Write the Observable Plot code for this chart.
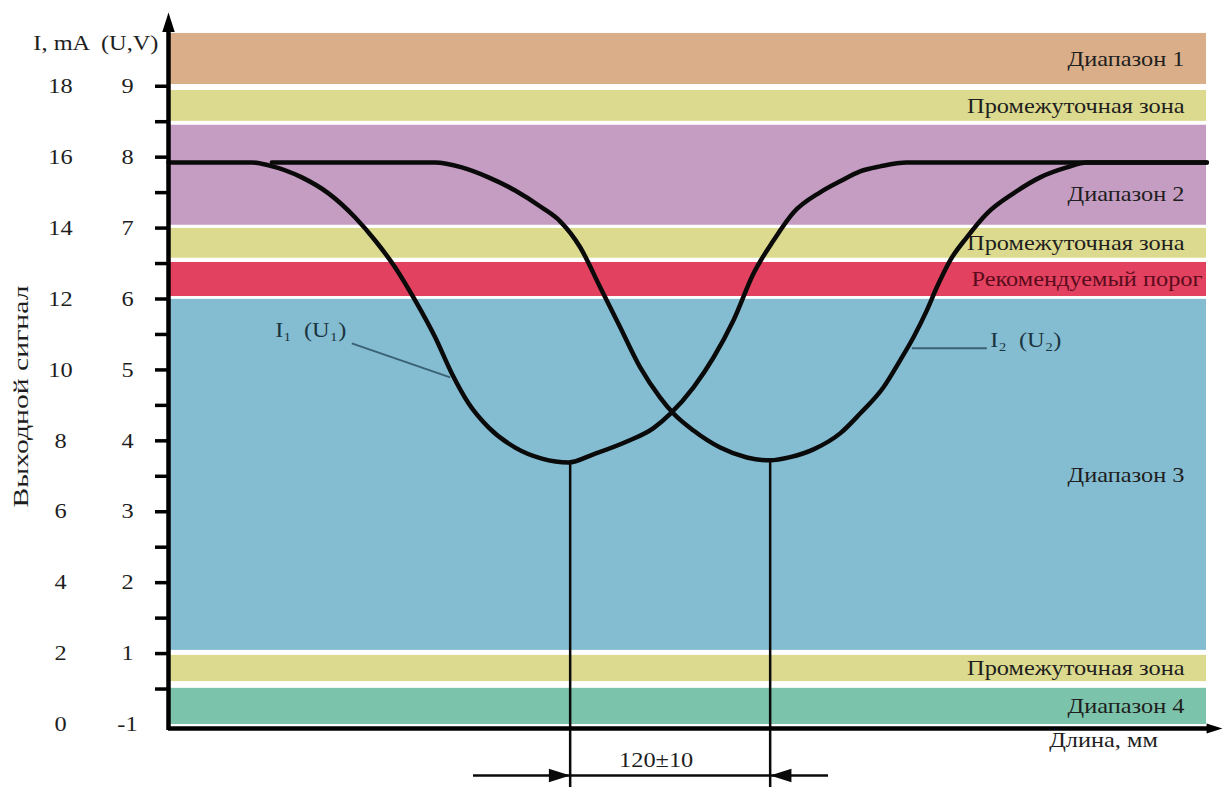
<!DOCTYPE html>
<html><head><meta charset="utf-8">
<script src="https://cdn.jsdelivr.net/npm/d3@7"></script>
<script src="https://cdn.jsdelivr.net/npm/@observablehq/plot@0.6"></script>
<style>
html,body{margin:0;padding:0;background:#fff}
#chart svg{display:block}
</style>
</head><body><div id="chart"></div>
<script>
// ---- data (x in mm along the length, y in mA) ----
const bandNames = ["Диапазон 1","Промежуточная зона","Диапазон 2","Промежуточная зона","Рекомендуемый порог","Диапазон 3","Промежуточная зона","Диапазон 4"];
const bandLow  = [18.05, 17.01, 14.08, 13.15, 12.07, 2.09, 1.21, 0];
const bandHigh = [19.49, 17.88, 16.90, 13.99, 13.03, 11.99, 1.95, 1.02];
const bandEnd = 622.8;

const baseline = 15.85;

const curve1X = [0, 50, 60, 80, 96, 112, 124, 136, 148, 160, 170, 180, 192, 208, 224, 240, 255, 275, 291, 301, 315, 327, 339, 351, 363, 375, 391, 403, 415, 427, 443, 623];
const curve1Y = [15.85, 15.85, 15.77, 15.43, 14.98, 14.30, 13.65, 12.89, 11.96, 10.92, 9.90, 9.06, 8.38, 7.81, 7.50, 7.39, 7.62, 7.98, 8.36, 8.76, 9.51, 10.35, 11.40, 12.72, 13.65, 14.44, 15.01, 15.32, 15.60, 15.74, 15.85, 15.85];

const curve2X = [62, 160, 176, 192, 208, 224, 235, 247, 259, 271, 283, 295, 303, 315, 331, 347, 361, 373, 387, 403, 415, 429, 439, 447, 455, 461, 469, 479, 491, 507, 523, 539, 551, 623];
const curve2Y = [15.85, 15.85, 15.71, 15.43, 15.06, 14.58, 14.19, 13.46, 12.33, 11.20, 10.07, 9.22, 8.77, 8.29, 7.81, 7.53, 7.45, 7.54, 7.76, 8.21, 8.77, 9.51, 10.27, 10.92, 11.68, 12.33, 13.09, 13.74, 14.41, 14.98, 15.43, 15.71, 15.85, 15.85];

const minimaX = [241, 361];
const minimaY = [7.39, 7.45];
const dimensionText = "120±10";
const dimensionSpan = [183, 396];
const dimensionLevel = -1.44;

const iTickLabels = [0, 2, 4, 6, 8, 10, 12, 14, 16, 18];
const uTickLabels = [-1, 1, 2, 3, 4, 5, 6, 7, 8, 9];
const tickValues = [1, 2, 3, 4, 5, 6, 7, 8, 9, 10, 11, 12, 13, 14, 15, 16, 17, 18];

const curveLabels = ["I₁  (U₁)", "I₂  (U₂)"];
const curveLabelX = [64, 493];
const curveLabelY = [11.11, 10.83];
const leaderX1 = [110, 446], leaderY1 = [10.75, 10.61];
const leaderX2 = [169, 491], leaderY2 = [9.79, 10.61];

const yTitle = "Выходной сигнал";
const xTitle = "Длина, мм";
const unitsTitle = "I, mA  (U,V)";

// ---- tables ----
const bands = bandNames.map((name, i) => ({name, low: bandLow[i], high: bandHigh[i]}));
const curve1 = curve1X.map((x, i) => ({x, y: curve1Y[i]}));
const curve2 = curve2X.map((x, i) => ({x, y: curve2Y[i]}));
const minima = minimaX.map((x, i) => ({x, y: minimaY[i]}));
const iTicks = iTickLabels.map((v, i) => ({y: v, i: v, u: uTickLabels[i]}));
const labels = curveLabels.map((t, i) => ({t, x: curveLabelX[i], y: curveLabelY[i]}));
const leaders = leaderX1.map((x1, i) => ({x1, y1: leaderY1[i], x2: leaderX2[i], y2: leaderY2[i]}));

const xMax = 632.4, yMax = 20.08;

function arrowSymbol(dir) {
  return {draw(ctx, size) {
    const L = Math.sqrt(size), W = L * 0.32;
    ctx.moveTo(0, 0);
    if (dir === "up") { ctx.lineTo(-W, L); ctx.lineTo(W, L); }
    else if (dir === "right") { ctx.lineTo(-L, -W); ctx.lineTo(-L, W); }
    else { ctx.lineTo(L, -W); ctx.lineTo(L, W); }
    ctx.closePath();
  }};
}

const labelY = d => d.name === "Диапазон 2" ? (baseline + d.low) / 2 : (d.low + d.high) / 2;
const font = "Liberation Serif";
const ink = "#1e1e1e";

const chart = Plot.plot({
  width: 1224, height: 787,
  marginLeft: 168, marginRight: 2, marginTop: 12, marginBottom: 63,
  x: {domain: [0, xMax], axis: null},
  y: {domain: [0, yMax], axis: null},
  color: {domain: [...new Set(bandNames)], range: ["#D9AE89", "#DCDA8F", "#C59DC2", "#E2415F", "#84BDD1", "#7CC3AB"]},
  style: {fontFamily: font, background: "white", overflow: "visible"},
  marks: [
    Plot.rect(bands, {x1: 0, x2: bandEnd, y1: "low", y2: "high", fill: "name"}),
    Plot.text(bands.filter(d => d.name !== "Рекомендуемый порог"), {x: bandEnd, y: labelY, text: "name", textAnchor: "end", dx: -22, fontSize: 21, fill: ink, className: "stretch"}),
    Plot.text(bands.filter(d => d.name === "Рекомендуемый порог"), {x: bandEnd, y: labelY, text: "name", textAnchor: "end", dx: -4, fontSize: 21, fill: "#5a0b1c", className: "stretch"}),
    // curves
    Plot.line(curve1, {x: "x", y: "y", curve: "monotone-x", stroke: "#0a0a0a", strokeWidth: 4.5}),
    Plot.line(curve2, {x: "x", y: "y", curve: "monotone-x", stroke: "#0a0a0a", strokeWidth: 4.5}),
    // leaders and curve labels
    Plot.link(leaders, {x1: "x1", y1: "y1", x2: "x2", y2: "y2", stroke: "#3b6274", strokeWidth: 2}),
    Plot.text(labels, {x: "x", y: "y", text: "t", textAnchor: "start", fontSize: 21, fill: "#1b3340", className: "stretch"}),
    // minima verticals & dimension
    Plot.ruleX(minima, {x: "x", y1: "y", y2: -1.85, stroke: "#0a0a0a", strokeWidth: 2.5}),
    Plot.ruleY([dimensionLevel], {x1: dimensionSpan[0], x2: dimensionSpan[1], stroke: "#0a0a0a", strokeWidth: 2.5}),
    Plot.dot([{x: minimaX[0], y: dimensionLevel}], {x: "x", y: "y", symbol: arrowSymbol("right"), r: 12, fill: "#0a0a0a", stroke: null}),
    Plot.dot([{x: minimaX[1], y: dimensionLevel}], {x: "x", y: "y", symbol: arrowSymbol("left"), r: 12, fill: "#0a0a0a", stroke: null}),
    Plot.text([dimensionText], {x: (minimaX[0] + minimaX[1]) / 2, y: dimensionLevel, dx: -14, dy: -15, fontSize: 21, fill: ink, className: "stretch"}),
    // axes
    Plot.ruleX([0], {y1: -0.17, y2: yMax - 0.4, stroke: "#000", strokeWidth: 4.5}),
    Plot.ruleY([0], {x1: 0, x2: xMax - 6, dy: 4, stroke: "#000", strokeWidth: 4.5}),
    Plot.dot([{x: 0, y: yMax}], {x: "x", y: "y", symbol: arrowSymbol("up"), r: 11, fill: "#000", stroke: null}),
    Plot.dot([{x: xMax, y: 0}], {x: "x", y: "y", dy: 4, symbol: arrowSymbol("right"), r: 9, fill: "#000", stroke: null}),
    Plot.ruleY(tickValues, {y: d => d, x1: -7.8, x2: 0, stroke: "#000", strokeWidth: 3.5}),
    Plot.text(iTicks, {y: "y", text: "i", frameAnchor: "left", dx: -108, textAnchor: "middle", fontSize: 21, fill: ink, className: "stretch"}),
    Plot.text(iTicks, {y: "y", text: "u", frameAnchor: "left", dx: -41, textAnchor: "middle", fontSize: 21, fill: ink, className: "stretch"}),
    Plot.text([unitsTitle], {frameAnchor: "top-left", textAnchor: "end", dx: -10, dy: 23, fontSize: 21, fill: ink, className: "stretch"}),
    Plot.text([yTitle], {frameAnchor: "left", textAnchor: "middle", rotate: -90, dx: -148, dy: 28, fontSize: 22, fill: ink, className: "stretchwide"}),
    Plot.text([xTitle], {frameAnchor: "bottom-right", textAnchor: "middle", dx: -119, dy: 22, fontSize: 21, fill: ink, className: "stretch"})
  ]
});
// the reference lettering is horizontally widened: stretch each label about its own anchor
function widen(selector, k) {
  chart.querySelectorAll(selector + " text").forEach(t => {
    const tr = t.getAttribute("transform");
    if (tr) t.setAttribute("transform", tr + ` scale(${k},1)`);
    else {
      const x = +t.getAttribute("x") || 0, y = +t.getAttribute("y") || 0;
      t.removeAttribute("x"); t.removeAttribute("y");
      t.setAttribute("transform", `translate(${x},${y}) scale(${k},1)`);
    }
  });
}
widen(".stretch", 1.16);
widen(".stretchwide", 1.35);
document.getElementById("chart").appendChild(chart);
</script>
</body></html>
